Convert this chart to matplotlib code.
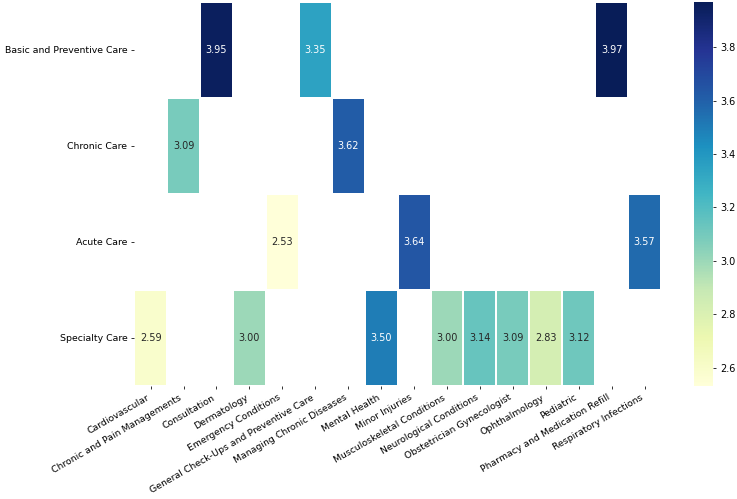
import numpy as np
import pandas as pd
import matplotlib
matplotlib.use("Agg")
import matplotlib.pyplot as plt
import seaborn as sns

rows = ["Basic and Preventive Care", "Chronic Care", "Acute Care", "Specialty Care"]
cols = ["Cardiovascular", "Chronic and Pain Managements", "Consultation", "Dermatology",
        "Emergency Conditions", "General Check-Ups and Preventive Care",
        "Managing Chronic Diseases", "Mental Health", "Minor Injuries",
        "Musculoskeletal Conditions", "Neurological Conditions",
        "Obstetrician Gynecologist", "Ophthalmology", "Pediatric",
        "Pharmacy and Medication Refill", "Respiratory Infections"]

basic = {"Consultation": 3.95, "General Check-Ups and Preventive Care": 3.35,
         "Pharmacy and Medication Refill": 3.97}
chronic = {"Chronic and Pain Managements": 3.09, "Managing Chronic Diseases": 3.62}
acute = {"Emergency Conditions": 2.53, "Minor Injuries": 3.64, "Respiratory Infections": 3.57}
specialty = {"Cardiovascular": 2.59, "Dermatology": 3.00, "Mental Health": 3.50,
             "Musculoskeletal Conditions": 3.00, "Neurological Conditions": 3.14,
             "Obstetrician Gynecologist": 3.09, "Ophthalmology": 2.83, "Pediatric": 3.12}

data = pd.DataFrame([basic, chronic, acute, specialty], index=rows, columns=cols)

dpi = 70
fig = plt.figure(figsize=(737 / dpi, 499 / dpi), dpi=dpi)
ax = fig.add_axes([0.182, 0.226, 0.715, 0.770])
cax = fig.add_axes([0.942, 0.226, 0.026, 0.770])
sns.heatmap(data, annot=True, fmt=".2f", cmap="YlGnBu", linewidths=0.5, linecolor="white",
            ax=ax, cbar_ax=cax)
ax.set_xticklabels(ax.get_xticklabels(), rotation=30, ha="right", fontsize=9.7)
ax.set_yticklabels(ax.get_yticklabels(), rotation=0, fontsize=9.7)
ax.set_xlabel("")
ax.set_ylabel("")
fig.savefig("out.png", dpi=dpi)
